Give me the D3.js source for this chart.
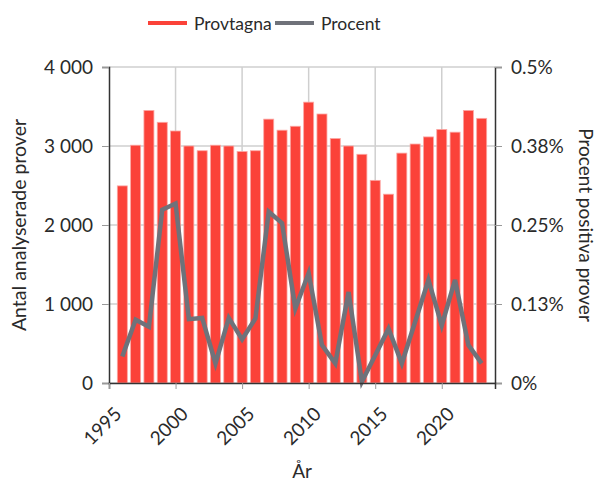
<!DOCTYPE html>
<html>
<head>
<meta charset="UTF-8">
<script src="https://cdn.jsdelivr.net/npm/d3@7"></script>
<style>
    body{margin:0;background:#fff;}
    text{font-family:Lato,"Noto Sans",sans-serif;fill:#2a2a2a;}
</style>
</head>
<body>
<script>
    // data
    var years=[1996,1997,1998,1999,2000,2001,2002,2003,2004,2005,2006,2007,2008,2009,
        2010,2011,2012,2013,2014,2015,2016,2017,2018,2019,2020,2021,2022,2023];
    var provtagna=[2495,3010,3450,3300,3190,3000,2940,3010,3000,2930,2940,3340,3200,3250,
        3555,3405,3095,3000,2895,2565,2390,2910,3025,3115,3210,3175,3450,3350];
    var procent=[0.042,0.100,0.089,0.274,0.284,0.101,0.103,0.031,0.103,0.069,0.102,0.271,0.253,0.118,
        0.174,0.060,0.031,0.144,0.002,0.044,0.086,0.031,0.097,0.163,0.091,0.163,0.060,0.031];
    var leftTicks=[0,1000,2000,3000,4000];
    var rightTicks=[0,0.125,0.25,0.375,0.5];
    var xTicks=[1995,2000,2005,2010,2015,2020];

    var W=599,H=482;
    var m={left:109,right:104,top:67,bottom:99};
    var svg=d3.select("body").append("svg").attr("width",W).attr("height",H);

    var x=d3.scaleLinear().domain([1995,2024]).range([m.left,W-m.right]);
    var yL=d3.scaleLinear().domain([0,4000]).range([H-m.bottom,m.top]);
    var yR=d3.scaleLinear().domain([0,0.5]).range([H-m.bottom,m.top]);

    var fmtL=function(d){return d3.format(",")(d).replace(","," ");};
    var fmtR=function(d){return d===0?"0%":(+d.toFixed(2))+"%";};

    // gridlines
    svg.append("g").selectAll("line").data(leftTicks).enter().append("line")
        .attr("x1",m.left).attr("x2",W-m.right)
        .attr("y1",function(d){return yL(d);}).attr("y2",function(d){return yL(d);})
        .style("stroke","#cfcfcf").style("stroke-width",1.5);
    svg.append("g").selectAll("line").data(xTicks.slice(1)).enter().append("line")
        .attr("x1",function(d){return x(d);}).attr("x2",function(d){return x(d);})
        .attr("y1",m.top).attr("y2",H-m.bottom)
        .style("stroke","#cfcfcf").style("stroke-width",1.5);

    // bars
    var bw=10;
    svg.append("g").selectAll("rect").data(years).enter().append("rect")
        .attr("x",function(d){return x(d)-bw/2;})
        .attr("y",function(d,i){return yL(provtagna[i]);})
        .attr("width",bw)
        .attr("height",function(d,i){return yL(0)-yL(provtagna[i]);})
        .style("fill","#fb4239")
        .style("stroke","#fca7a3").style("stroke-width",0.8);

    // line
    var line=d3.line()
        .x(function(d){return x(d);})
        .y(function(d,i){return yR(procent[i]);});
    svg.append("path").datum(years).attr("d",line)
        .style("fill","none").style("stroke","#6f727a").style("stroke-width",4.5)
        .style("stroke-linejoin","miter");

    // axes
    var axL=svg.append("g").attr("transform","translate("+m.left+",0)")
        .call(d3.axisLeft(yL).tickValues(leftTicks).tickFormat(fmtL).tickSize(7).tickPadding(9));
    var axR=svg.append("g").attr("transform","translate("+(W-m.right)+",0)")
        .call(d3.axisRight(yR).tickValues(rightTicks).tickFormat(fmtR).tickSize(7).tickPadding(9));
    var axB=svg.append("g").attr("transform","translate(0,"+(H-m.bottom)+")")
        .call(d3.axisBottom(x).tickValues(xTicks).tickFormat(d3.format("d")).tickSize(6).tickPadding(6));
    [axL,axR,axB].forEach(function(a){
        a.select(".domain").style("stroke","#333").style("stroke-width",1.5);
        a.selectAll(".tick line").style("stroke","#999");
        a.selectAll("text").style("font-size","19px").style("font-family","Lato,'Noto Sans',sans-serif").style("fill","#2a2a2a");
    });
    axB.selectAll("text")
        .attr("text-anchor","end")
        .attr("dy","0.35em")
        .attr("transform","translate(0,19) rotate(-45)");

    // axis titles
    svg.append("text").attr("transform","translate(26,"+((m.top+H-m.bottom)/2)+") rotate(-90)")
        .attr("text-anchor","middle").style("font-size","19.5px").text("Antal analyserade prover");
    svg.append("text").attr("transform","translate(579,"+((m.top+H-m.bottom)/2)+") rotate(90)")
        .attr("text-anchor","middle").style("font-size","19px").text("Procent positiva prover");
    svg.append("text").attr("x",(m.left+W-m.right)/2).attr("y",478)
        .attr("text-anchor","middle").style("font-size","19px").text("År");

    // legend
    var leg=[{name:"Provtagna",c:"#fb4239",x:148},{name:"Procent",c:"#6f727a",x:275}];
    var lg=svg.append("g").selectAll("g").data(leg).enter().append("g")
        .attr("transform",function(d){return "translate("+d.x+",23)";});
    lg.append("line").attr("x1",0).attr("x2",39).attr("y1",0).attr("y2",0)
        .style("stroke",function(d){return d.c;}).style("stroke-width",4);
    lg.append("text").attr("x",46).attr("y",6.5).style("font-size","17.5px")
        .text(function(d){return d.name;});
</script>
</body>
</html>
